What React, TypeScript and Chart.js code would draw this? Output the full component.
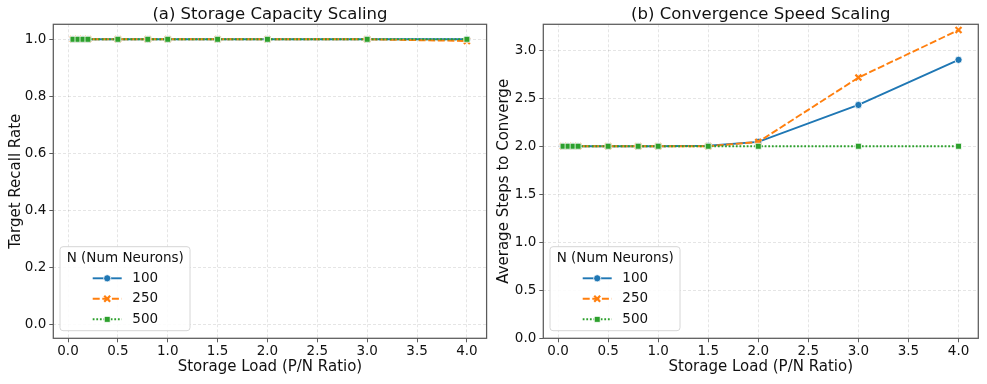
import React, { useEffect, useRef } from 'react';
import { Chart, registerables } from 'chart.js';

Chart.register(...registerables);

const FONT = 'DejaVu Sans';
Chart.defaults.font.family = FONT;

// ---------- data ----------
const X_VALUES = [0.05, 0.1, 0.15, 0.2, 0.5, 0.8, 1.0, 1.5, 2.0, 3.0, 4.0];
const X_TICKS = [0, 0.5, 1.0, 1.5, 2.0, 2.5, 3.0, 3.5, 4.0];
const SERIES_NAMES = ['100', '250', '500'];
const LEGEND_TITLE = 'N (Num Neurons)';

const RECALL_100 = [1, 1, 1, 1, 1, 1, 1, 1, 1, 1, 1.0];
const RECALL_250 = [1, 1, 1, 1, 1, 1, 1, 1, 1, 1, 0.994];
const RECALL_500 = [1, 1, 1, 1, 1, 1, 1, 1, 1, 1, 1];
const RECALL_TICKS = [0, 0.2, 0.4, 0.6, 0.8, 1.0];

const STEPS_100 = [2, 2, 2, 2, 2, 2, 2, 2.005, 2.045, 2.43, 2.9];
const STEPS_250 = [2, 2, 2, 2, 2, 2, 2, 2.0, 2.045, 2.715, 3.21];
const STEPS_500 = [2, 2, 2, 2, 2, 2, 2, 2, 2, 2, 2];
const STEPS_TICKS = [0, 0.5, 1.0, 1.5, 2.0, 2.5, 3.0];

const X_TITLE = 'Storage Load (P/N Ratio)';

// ---------- styles ----------
const COLORS = ['#1f77b4', '#ff7f0e', '#2ca02c'];
const DASHES: number[][] = [[], [7, 2.6], [1.8, 1.8]];
const MARKERS = ['circle', 'crossRot', 'rect'];
const TEXT = '#111111';
const SPINE = '#5a5a5a';
const GRID = 'rgba(0,0,0,0.13)';

const X_MIN = -0.1475;
const X_MAX = 4.1975;

const framePlugin = {
  id: 'frame',
  afterDatasetsDraw(chart: any) {
    const { ctx, chartArea: a } = chart;
    ctx.save();
    ctx.strokeStyle = SPINE;
    ctx.lineWidth = 1.25;
    ctx.setLineDash([]);
    ctx.strokeRect(a.left, a.top, a.right - a.left, a.bottom - a.top);
    ctx.restore();
  },
};

function drawMarker(ctx: CanvasRenderingContext2D, i: number, x: number, y: number) {
  ctx.save();
  ctx.setLineDash([]);
  if (i === 0) {
    ctx.beginPath();
    ctx.arc(x, y, 3.6, 0, Math.PI * 2);
    ctx.fillStyle = COLORS[0];
    ctx.fill();
    ctx.strokeStyle = '#fff';
    ctx.lineWidth = 0.8;
    ctx.stroke();
  } else if (i === 1) {
    const d = 4.2 * Math.SQRT1_2;
    ctx.beginPath();
    ctx.moveTo(x - d, y - d);
    ctx.lineTo(x + d, y + d);
    ctx.moveTo(x - d, y + d);
    ctx.lineTo(x + d, y - d);
    ctx.strokeStyle = COLORS[1];
    ctx.lineWidth = 2.2;
    ctx.stroke();
  } else {
    const s = 4.2 * Math.SQRT1_2;
    ctx.fillStyle = COLORS[2];
    ctx.fillRect(x - s, y - s, 2 * s, 2 * s);
    ctx.strokeStyle = '#fff';
    ctx.lineWidth = 0.8;
    ctx.strokeRect(x - s, y - s, 2 * s, 2 * s);
  }
  ctx.restore();
}

const legendPlugin = {
  id: 'innerLegend',
  afterDraw(chart: any) {
    const { ctx, chartArea: a } = chart;
    const x0 = a.left + 6.7;
    const y0 = a.bottom - 91.6;
    const w = 130;
    const h = 84;
    ctx.save();
    ctx.beginPath();
    const r = 3;
    ctx.moveTo(x0 + r, y0);
    ctx.lineTo(x0 + w - r, y0);
    ctx.arcTo(x0 + w, y0, x0 + w, y0 + r, r);
    ctx.lineTo(x0 + w, y0 + h - r);
    ctx.arcTo(x0 + w, y0 + h, x0 + w - r, y0 + h, r);
    ctx.lineTo(x0 + r, y0 + h);
    ctx.arcTo(x0, y0 + h, x0, y0 + h - r, r);
    ctx.lineTo(x0, y0 + r);
    ctx.arcTo(x0, y0, x0 + r, y0, r);
    ctx.closePath();
    ctx.fillStyle = 'rgba(255,255,255,0.85)';
    ctx.fill();
    ctx.strokeStyle = '#d6d6d6';
    ctx.lineWidth = 1;
    ctx.stroke();

    ctx.font = `13.5px "${FONT}"`;
    ctx.fillStyle = TEXT;
    ctx.textBaseline = 'middle';
    ctx.textAlign = 'left';
    ctx.fillText(LEGEND_TITLE, x0 + 6.7, y0 + 11.6);

    SERIES_NAMES.forEach((name, i) => {
      const cy = y0 + 31.6 + i * 20.5;
      const lx1 = x0 + 32.7;
      const lx2 = x0 + 61.7;
      ctx.save();
      ctx.beginPath();
      ctx.setLineDash(DASHES[i]);
      ctx.strokeStyle = COLORS[i];
      ctx.lineWidth = 1.9;
      ctx.moveTo(lx1, cy);
      ctx.lineTo(lx2, cy);
      ctx.stroke();
      ctx.restore();
      drawMarker(ctx, i, (lx1 + lx2) / 2, cy);
      ctx.fillStyle = TEXT;
      ctx.fillText(name, x0 + 72.3, cy);
    });
    ctx.restore();
  },
};

type PanelSpec = {
  title: string;
  yTitle: string;
  series: number[][];
  yMin: number;
  yMax: number;
  yTicks: number[];
  left: number;
  width: number;
  yAxisWidth: number;
  yTitlePad: number;
  padRight: number;
};

const PANELS: PanelSpec[] = [
  {
    title: '(a) Storage Capacity Scaling',
    yTitle: 'Target Recall Rate',
    series: [RECALL_100, RECALL_250, RECALL_500],
    yMin: -0.0486,
    yMax: 1.0526,
    yTicks: RECALL_TICKS,
    left: 0,
    width: 493,
    yAxisWidth: 53.3,
    yTitlePad: 7.5,
    padRight: 4,
  },
  {
    title: '(b) Convergence Speed Scaling',
    yTitle: 'Average Steps to Converge',
    series: [STEPS_100, STEPS_250, STEPS_500],
    yMin: 0,
    yMax: 3.27,
    yTicks: STEPS_TICKS,
    left: 493,
    width: 494,
    yAxisWidth: 50.3,
    yTitlePad: 2.5,
    padRight: 8.7,
  },
];

function makeConfig(p: PanelSpec): any {
  const datasets = p.series.map((vals, i) => ({
    label: SERIES_NAMES[i],
    data: X_VALUES.map((x, j) => ({ x, y: vals[j] })),
    borderColor: COLORS[i],
    backgroundColor: COLORS[i],
    borderWidth: 1.9,
    borderDash: DASHES[i],
    pointStyle: MARKERS[i],
    pointRadius: i === 0 ? 3.6 : 4.2,
    pointBackgroundColor: COLORS[i],
    pointBorderColor: i === 1 ? COLORS[i] : '#ffffff',
    pointBorderWidth: i === 1 ? 2.2 : 0.8,
    order: 3 - i,
    tension: 0,
    fill: false,
  }));

  const gridCommon = {
    color: GRID,
    lineWidth: 0.8,
    drawTicks: true,
    tickLength: 4,
    tickColor: SPINE,
    tickWidth: 1,
    tickBorderDash: [],
  };

  return {
    type: 'line',
    data: { datasets },
    options: {
      animation: false,
      responsive: false,
      maintainAspectRatio: false,
      layout: { padding: { left: 0, right: p.padRight, top: 0, bottom: 0 } },
      plugins: {
        legend: { display: false },
        tooltip: { enabled: false },
        title: {
          display: true,
          fullSize: false,
          text: p.title,
          color: TEXT,
          font: { size: 16.5, weight: 'normal', family: FONT, lineHeight: 1 },
          padding: { top: 6.75, bottom: 1.05 },
        },
      },
      scales: {
        x: {
          type: 'linear',
          min: X_MIN,
          max: X_MAX,
          afterBuildTicks: (s: any) => {
            s.ticks = X_TICKS.map((v) => ({ value: v }));
          },
          afterFit: (s: any) => {
            s.height = 45.7;
          },
          ticks: {
            callback: (v: any) => Number(v).toFixed(1),
            font: { size: 13.5 },
            color: TEXT,
            padding: 1.5,
            autoSkip: false,
            maxRotation: 0,
          },
          grid: gridCommon,
          border: { display: false, dash: [3, 2] },
          title: {
            display: true,
            text: X_TITLE,
            color: TEXT,
            font: { size: 15 },
            padding: { top: 0, bottom: 8 },
          },
        },
        y: {
          type: 'linear',
          min: p.yMin,
          max: p.yMax,
          afterBuildTicks: (s: any) => {
            s.ticks = p.yTicks.map((v) => ({ value: v }));
          },
          afterFit: (s: any) => {
            s.width = p.yAxisWidth;
          },
          ticks: {
            callback: (v: any) => Number(v).toFixed(1),
            font: { size: 13.5 },
            color: TEXT,
            padding: 3,
          },
          grid: gridCommon,
          border: { display: false, dash: [3, 2] },
          title: {
            display: true,
            text: p.yTitle,
            color: TEXT,
            font: { size: 15 },
            padding: { top: p.yTitlePad, bottom: 0 },
          },
        },
      },
    },
    plugins: [framePlugin, legendPlugin],
  };
}

function Panel({ spec }: { spec: PanelSpec }) {
  const ref = useRef<HTMLCanvasElement | null>(null);
  useEffect(() => {
    if (!ref.current) return;
    const chart = new Chart(ref.current, makeConfig(spec));
    return () => chart.destroy();
  }, [spec]);
  return (
    <canvas
      ref={ref}
      width={spec.width}
      height={384}
      style={{ position: 'absolute', left: spec.left, top: 0, width: spec.width, height: 384 }}
    />
  );
}

export default function App() {
  return (
    <div
      style={{
        position: 'absolute',
        left: 0,
        top: 0,
        width: 987,
        height: 384,
        background: '#ffffff',
        overflow: 'hidden',
      }}
    >
      {PANELS.map((p) => (
        <Panel key={p.title} spec={p} />
      ))}
    </div>
  );
}
